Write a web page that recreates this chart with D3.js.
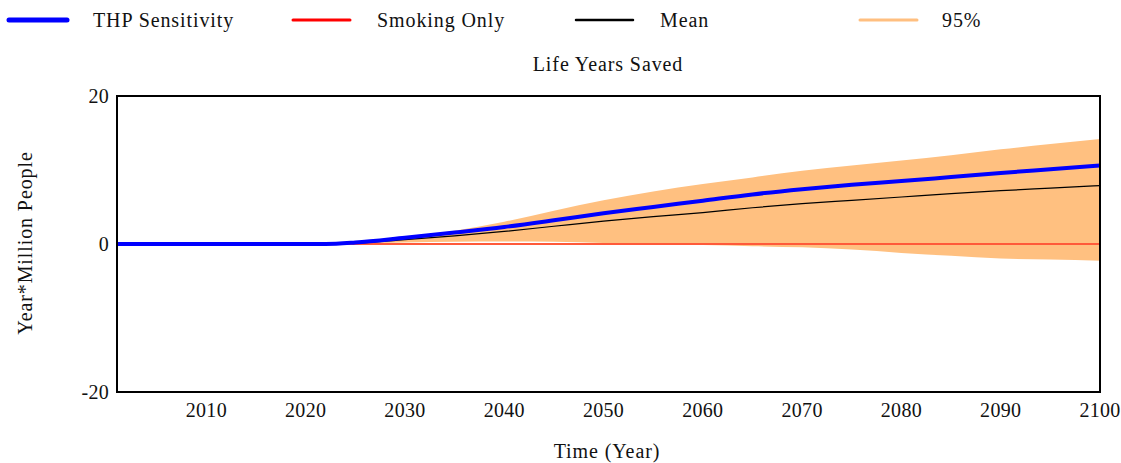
<!DOCTYPE html>
<html><head><meta charset="utf-8">
<script src="https://cdn.jsdelivr.net/npm/d3@7"></script>
<style>body{margin:0;background:#fff}svg{display:block}text{font-family:"Liberation Serif","Times New Roman",serif;fill:#111;letter-spacing:0.9px}text.tick{letter-spacing:0.3px}</style>
</head><body><svg id="c" width="1121" height="463"></svg>
<script>
const years     = [2001,2005,2010,2015,2020,2022,2025,2030,2035,2040,2045,2050,2055,2060,2065,2070,2075,2080,2085,2090,2095,2100];
const thp       = [0,0,0,0,0,0,0.2,0.85,1.55,2.3,3.2,4.15,5.0,5.85,6.7,7.4,8.0,8.5,9.05,9.6,10.1,10.6];
const smoking   = [0,0,0,0,0,0,0,0,0,0,0,0,0,0,0,0,0,0,0,0,0,0];
const meanVals  = [0,0,0,0,0,0,0.1,0.6,1.1,1.7,2.4,3.1,3.7,4.25,4.9,5.45,5.9,6.35,6.8,7.2,7.55,7.9];
const upper95   = [0,0,0,0,0,0,0.2,0.9,1.8,3.0,4.5,5.9,7.1,8.1,9.0,9.9,10.6,11.3,12.0,12.8,13.5,14.2];
const lower95   = [0,0,0,0,0,0,0.05,0.2,0.3,0.35,0.3,0.15,0,-0.15,-0.3,-0.45,-0.75,-1.2,-1.6,-1.95,-2.1,-2.25];
const yTicks    = [-20,0,20];
const xTicks    = [2010,2020,2030,2040,2050,2060,2070,2080,2090,2100];
const legendNames = ["THP Sensitivity","Smoking Only","Mean","95%"];

const svg = d3.select("#c");
const L=117, R=1100, T=96, B=392;
const x = d3.scaleLinear().domain([2001,2100]).range([L,R]);
const y = d3.scaleLinear().domain([-20,20]).range([B,T]);
const idx = d3.range(years.length);
const curve = d3.curveMonotoneX;

// band
svg.append("path")
  .attr("d", d3.area().x(i=>x(years[i])).y0(i=>y(lower95[i])).y1(i=>y(upper95[i])).curve(curve)(idx))
  .attr("fill","#ffc080");
const line = arr => d3.line().x(i=>x(years[i])).y(i=>y(arr[i])).curve(curve)(idx);
svg.append("path").attr("d",line(smoking)).attr("fill","none").attr("stroke","#ff5a3a").attr("stroke-width",2);
svg.append("path").attr("d",line(meanVals)).attr("fill","none").attr("stroke","#000").attr("stroke-width",1.2);
svg.append("path").attr("d",line(thp)).attr("fill","none").attr("stroke","#0000ff").attr("stroke-width",4);

// frame
svg.append("rect").attr("x",L).attr("y",T).attr("width",R-L).attr("height",B-T)
  .attr("fill","none").attr("stroke","#000").attr("stroke-width",2);

// axes ticks labels
const gy = svg.append("g");
yTicks.forEach(v=>{
  gy.append("text").attr("class","tick").attr("x",109).attr("y",y(v)+7).attr("text-anchor","end").attr("font-size",20).text(v);
});
const gx = svg.append("g");
xTicks.forEach(v=>{
  gx.append("text").attr("class","tick").attr("x",x(v)).attr("y",417).attr("text-anchor","middle").attr("font-size",20).text(v);
});

svg.append("text").attr("x",608).attr("y",71).attr("text-anchor","middle").attr("font-size",20).text("Life Years Saved");
svg.append("text").attr("x",607).attr("y",458).attr("text-anchor","middle").attr("font-size",20).text("Time (Year)");
svg.append("text").attr("transform","translate(32,243) rotate(-90)").attr("text-anchor","middle").attr("font-size",20).text("Year*Million People");

// legend
const leg = [
  {x1:9,x2:67,tx:93,color:"#0000ff",w:5},
  {x1:293,x2:350,tx:377,color:"#ff0000",w:3},
  {x1:576,x2:633,tx:660,color:"#000000",w:2.5},
  {x1:860,x2:917,tx:942,color:"#ffbf80",w:3}
];
leg.forEach((d,i)=>{
  svg.append("line").attr("x1",d.x1).attr("x2",d.x2).attr("y1",20).attr("y2",20)
    .attr("stroke",d.color).attr("stroke-width",d.w).attr("stroke-linecap","round");
  svg.append("text").attr("x",d.tx).attr("y",27).attr("font-size",20).text(legendNames[i]);
});
</script></body></html>
